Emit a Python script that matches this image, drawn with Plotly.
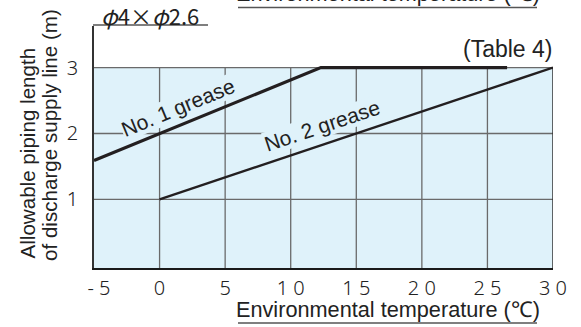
import plotly.graph_objects as go

# Temperature axis (deg C) and allowable length (m)
x_ticks = [-5, 0, 5, 10, 15, 20, 25, 30]
x_ticktext = ["\u2002- 5", "0", "5", "1 0", "1 5", "2 0", "2 5", "3 0"]
y_ticks = [1, 2, 3]
y_ticktext = ["1", "2", "3"]

grease1_temp = [-5, 12.3, 26.5]
grease1_len = [1.59, 3, 3]
grease2_temp = [0, 30]
grease2_len = [1, 3]

X_RANGE = [-5, 30]
Y_RANGE = [-0.04, 3.63]

FILL = "#dff2fa"
GRID = "#6a6a6a"
INK = "#231f20"
TXT = "#222222"
SANS = "Liberation Sans, Arial, sans-serif"
JP = "Noto Sans CJK JP, sans-serif"
TICK = "Noto Sans, Noto Sans CJK JP, sans-serif"

W, H = 581, 327
ML, MR, MT, MB = 94, 28, 26, 59
PW, PH = W - ML - MR, H - MT - MB


def px(xp):
    return (xp - ML) / PW


def py(yp):
    return (H - MB - yp) / PH


fig = go.Figure()

fig.add_trace(go.Scatter(x=grease1_temp, y=grease1_len, mode="lines",
                         line=dict(color=INK, width=3.2), hoverinfo="skip"))
fig.add_trace(go.Scatter(x=grease2_temp, y=grease2_len, mode="lines",
                         line=dict(color=INK, width=2.4), hoverinfo="skip"))

shapes = [dict(type="rect", xref="x", yref="y", x0=X_RANGE[0], x1=X_RANGE[1],
               y0=Y_RANGE[0], y1=3, fillcolor=FILL, line_width=0, layer="below")]
for xv in x_ticks[1:-1]:
    shapes.append(dict(type="line", xref="x", yref="y", x0=xv, x1=xv,
                       y0=Y_RANGE[0], y1=3, line=dict(color=GRID, width=1.3), layer="below"))
for yv in y_ticks:
    shapes.append(dict(type="line", xref="x", yref="y", x0=X_RANGE[0], x1=X_RANGE[1],
                       y0=yv, y1=yv, line=dict(color=GRID, width=1.3), layer="below"))
# right border of the shaded region
shapes.append(dict(type="line", xref="x", yref="y", x0=X_RANGE[1], x1=X_RANGE[1],
                   y0=Y_RANGE[0], y1=3, line=dict(color="#333", width=1.5), layer="below"))


# underlines for the captions
def underline(x0p, x1p, yp):
    return dict(type="line", xref="paper", yref="paper", x0=px(x0p), x1=px(x1p),
                y0=py(yp), y1=py(yp), line=dict(color="#555", width=1.6))


shapes.append(underline(238, 537, 323))
shapes.append(underline(238, 537, 7.5))
shapes.append(underline(93, 208, 25))

annotations = [
    dict(text="No. 1 grease", x=1.4, y=2.39, xref="x", yref="y", showarrow=False,
         textangle=-22.4, font=dict(family=SANS, size=21, color=TXT),
         bgcolor=FILL, borderpad=0),
    dict(text="No. 2 grease", x=12.4, y=2.12, xref="x", yref="y", showarrow=False,
         textangle=-18.5, font=dict(family=SANS, size=21, color=TXT),
         bgcolor=FILL, borderpad=0),
    dict(text="(Table 4)", x=px(554), y=py(49), xref="paper", yref="paper",
         xanchor="right", yanchor="middle", showarrow=False,
         font=dict(family=SANS, size=23, color=TXT)),
    dict(text="<i>\u03c6</i>4\u00d7<i>\u03c6</i>2.6", x=px(99), y=py(15.5), xref="paper", yref="paper",
         xanchor="left", yanchor="middle", showarrow=False,
         font=dict(family=JP, size=22, color=TXT)),
    dict(text="Environmental temperature (\u2103)", x=px(388), y=py(309),
         xref="paper", yref="paper", xanchor="center", yanchor="middle", showarrow=False,
         font=dict(family=SANS, size=21.7, color=TXT)),
    dict(text="Environmental temperature (\u2103)", x=px(388), y=py(309 - 315.5),
         xref="paper", yref="paper", xanchor="center", yanchor="middle", showarrow=False,
         font=dict(family=SANS, size=21.7, color=TXT)),
    dict(text="Allowable piping length", x=px(27), y=py(261), xref="paper", yref="paper",
         xanchor="center", yanchor="bottom", textangle=-90, showarrow=False,
         font=dict(family=SANS, size=20.6, color=TXT)),
    dict(text="of discharge supply line (m)", x=px(49), y=py(263), xref="paper", yref="paper",
         xanchor="center", yanchor="bottom", textangle=-90, showarrow=False,
         font=dict(family=SANS, size=20.6, color=TXT)),
]

fig.update_layout(
    width=W, height=H,
    margin=dict(l=ML, r=MR, t=MT, b=MB, pad=0),
    paper_bgcolor="white", plot_bgcolor="white",
    showlegend=False,
    shapes=shapes, annotations=annotations,
    xaxis=dict(range=X_RANGE, tickmode="array", tickvals=x_ticks, ticktext=x_ticktext,
               showgrid=False, zeroline=False, showline=True, linecolor="#1a1a1a",
               linewidth=1.6, ticks="", ticklabelstandoff=1,
               tickfont=dict(family=TICK, size=20, color=TXT, weight=300)),
    yaxis=dict(range=Y_RANGE, tickmode="array", tickvals=y_ticks, ticktext=y_ticktext,
               showgrid=False, zeroline=False, showline=True, linecolor="#333",
               linewidth=1.6, ticks="", ticklabelstandoff=10,
               tickfont=dict(family=TICK, size=20, color=TXT, weight=300)),
)

fig.write_html("out.html")
